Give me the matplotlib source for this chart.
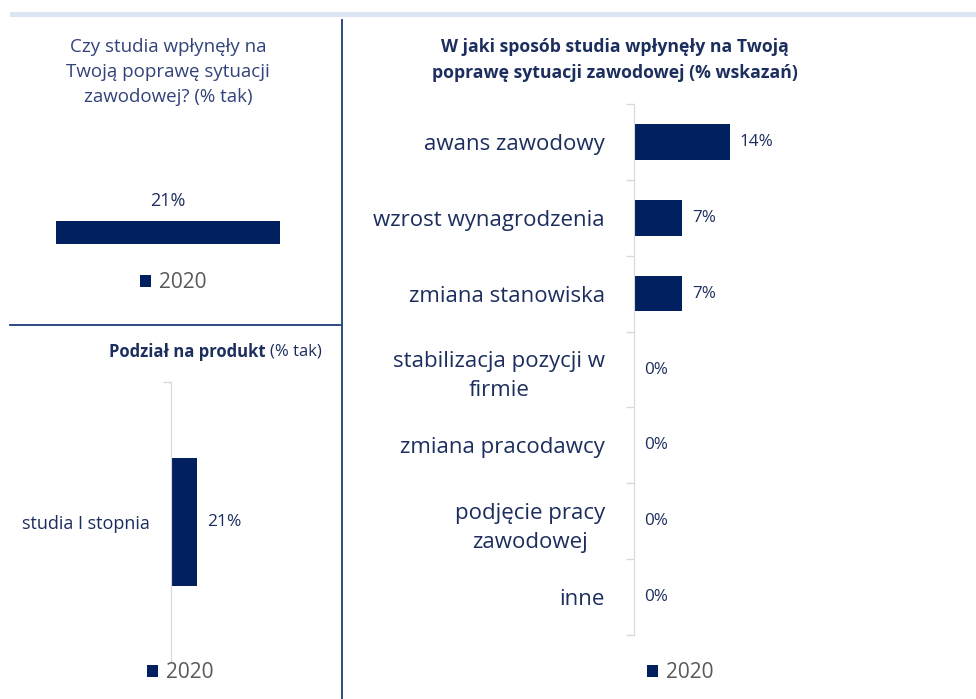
import matplotlib.pyplot as plt
from matplotlib.lines import Line2D
from matplotlib.patches import Rectangle

# data
overall_label = ['2020']
overall_value = [21]

product_names = ['studia I stopnia']
product_values = [21]

ways = ['awans zawodowy', 'wzrost wynagrodzenia', 'zmiana stanowiska',
        'stabilizacja pozycji w\nfirmie', 'zmiana pracodawcy',
        'podjęcie pracy\nzawodowej', 'inne']
ways_values = [14, 7, 7, 0, 0, 0, 0]

series_name = '2020'

NAVY = '#002060'
TEXT = '#1c2e5e'
GRAY_TXT = '#595959'
AXIS = '#d9d9d9'
W, H = 976, 699

plt.rcParams['font.family'] = ['Open Sans', 'DejaVu Sans']

fig = plt.figure(figsize=(W / 100, H / 100), dpi=100)


def box(x0, y0, x1, y1):
    # pixel box (top-left origin) -> figure fraction rect
    return [x0 / W, 1 - y1 / H, (x1 - x0) / W, (y1 - y0) / H]


def fx(x):
    return x / W


def fy(y):
    return 1 - y / H


# frame decorations
fig.add_artist(Rectangle((fx(10), fy(17)), fx(966), 5 / H, color='#dde4f4', lw=0))
fig.add_artist(Line2D([fx(342), fx(342)], [fy(20), fy(699)], color='#1f3a7a', lw=1.3))
fig.add_artist(Line2D([fx(10), fx(340)], [fy(325), fy(325)], color='#1f3a7a', lw=1.3))

# --- top left: overall share
fig.text(fx(168), fy(72), 'Czy studia wpłynęły na\nTwoją poprawę sytuacji\nzawodowej? (% tak)',
         ha='center', va='center', fontsize=13.5, color='#33427a', linespacing=1.5)

ax1 = fig.add_axes(box(56, 130, 280, 244))
b1 = ax1.bar([0], overall_value, width=1, color=NAVY, label=series_name)
ax1.bar_label(b1, labels=[f'{v}%' for v in overall_value], padding=8,
              fontsize=13, color=TEXT)
ax1.set_xlim(-0.5, 0.5)
ax1.set_ylim(0, 104)
ax1.axis('off')
fig.legend(handles=[b1], labels=[series_name], loc='center', bbox_to_anchor=(fx(173), fy(283)),
           frameon=False, fontsize=15, labelcolor=GRAY_TXT, handlelength=0.55,
           handleheight=0.55, handletextpad=0.35)

# --- bottom left: by product
fig.text(fx(266), fy(352), 'Podział na produkt', ha='right', va='center',
         fontsize=12, fontweight='bold', color=TEXT)
fig.text(fx(270), fy(352), '(% tak)', ha='left', va='center', fontsize=12, color=TEXT)

ax2 = fig.add_axes(box(171, 382, 330, 662))
b2 = ax2.barh(range(len(product_names)), product_values, height=0.46, color=NAVY)
ax2.bar_label(b2, labels=[f'{v}%' for v in product_values], padding=7,
              fontsize=12.5, color=TEXT)
ax2.set_ylim(-0.5, 0.5)
ax2.set_xlim(0, 128)
ax2.set_yticks(range(len(product_names)), product_names, fontsize=13, color=TEXT)
ax2.set_yticks([0.5], minor=True)
ax2.tick_params(axis='y', which='major', length=0, pad=15)
ax2.tick_params(axis='y', which='minor', length=6, color=AXIS, width=1)
ax2.set_xticks([])
for s in ['top', 'right', 'bottom']:
    ax2.spines[s].set_visible(False)
ax2.spines['left'].set_color(AXIS)
fig.legend(handles=[b2], labels=[series_name], loc='center', bbox_to_anchor=(fx(180), fy(673)),
           frameon=False, fontsize=15, labelcolor=GRAY_TXT, handlelength=0.55,
           handleheight=0.55, handletextpad=0.35)

# --- right: how studies helped
fig.text(fx(615), fy(60), 'W jaki sposób studia wpłynęły na Twoją\npoprawę sytuacji zawodowej (% wskazań)',
         ha='center', va='center', fontsize=12.7, fontweight='bold', color=TEXT, linespacing=1.6)

ax3 = fig.add_axes(box(634, 104, 960, 635))
pos = list(range(len(ways)))
b3 = ax3.barh(pos, ways_values, height=0.47, color=NAVY)
ax3.bar_label(b3, labels=[f'{v}%' for v in ways_values], padding=7,
              fontsize=12.3, color=TEXT)
ax3.set_ylim(len(ways) - 0.5, -0.5)
ax3.set_xlim(0, 47.5)
ax3.set_yticks(pos, ways, fontsize=16, color=TEXT)
for lbl in ax3.get_yticklabels():
    lbl.set_multialignment('center')
    lbl.set_linespacing(1.5)
ax3.set_yticks([p - 0.5 for p in pos] + [len(ways) - 0.5], minor=True)
ax3.tick_params(axis='y', which='major', length=0, pad=21)
ax3.tick_params(axis='y', which='minor', length=6, color=AXIS, width=1)
ax3.set_xticks([])
for s in ['top', 'right', 'bottom']:
    ax3.spines[s].set_visible(False)
ax3.spines['left'].set_color(AXIS)
fig.legend(handles=[b3], labels=[series_name], loc='center', bbox_to_anchor=(fx(680), fy(673)),
           frameon=False, fontsize=15, labelcolor=GRAY_TXT, handlelength=0.55,
           handleheight=0.55, handletextpad=0.35)

fig.savefig('out.png', dpi=100)
